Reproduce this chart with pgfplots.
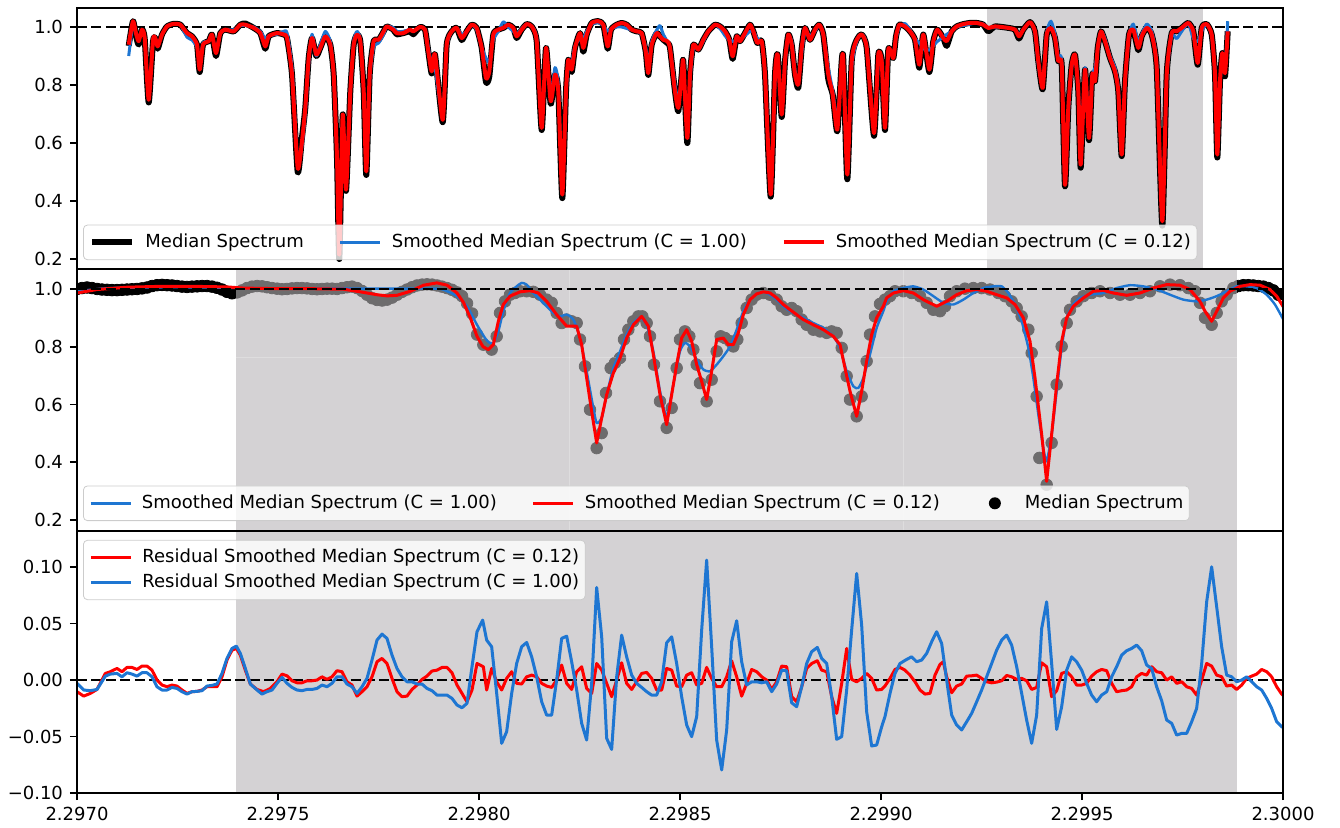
\documentclass[border=0pt]{standalone}
\usepackage{pgfplots}
\pgfplotsset{compat=1.18}
\usepackage{pgfplotstable}
\usepackage{fontspec}
\setmainfont{DejaVu Sans}
\definecolor{mplblue}{RGB}{30,118,210}
\definecolor{spangray}{RGB}{212,210,212}
\definecolor{spanover}{RGB}{183,180,183}

% top panel: x in arbitrary (pixel-like) units, columns: median, C=1.00, C=0.12
\pgfplotstableread{
x med blue red
128.7 0.935 0.900 0.939
133.0 1.020 1.010 1.020
136.3 0.965 0.975 0.974
138.7 0.940 0.955 0.951
142.0 0.991 0.991 0.991
144.7 0.960 0.962 0.962
148.7 0.740 0.760 0.749
153.0 0.950 0.956 0.956
155.3 0.962 0.962 0.962
157.7 0.925 0.935 0.933
162.0 0.974 0.974 0.974
167.0 1.002 1.002 1.002
173.7 1.011 1.011 1.011
180.3 1.008 1.008 1.008
187.0 0.979 0.965 0.979
192.0 0.968 0.955 0.968
197.0 0.939 0.930 0.939
199.7 0.845 0.870 0.853
203.0 0.939 0.945 0.939
208.7 0.951 0.951 0.951
212.0 0.974 0.970 0.974
216.0 0.900 0.920 0.910
220.3 0.979 0.979 0.979
225.3 0.991 0.991 0.991
233.7 0.985 0.990 0.985
240.3 1.008 1.005 1.008
245.3 1.012 1.005 1.008
253.7 0.997 1.000 0.997
260.3 0.979 0.985 0.979
265.3 0.925 0.960 0.933
268.7 0.968 0.970 0.968
277.0 0.979 0.975 0.979
283.7 0.974 0.985 0.974
287.0 0.962 0.980 0.962
292.0 0.836 0.860 0.836
297.7 0.500 0.530 0.514
302.0 0.620 0.590 0.606
305.3 0.721 0.700 0.721
308.7 0.893 0.870 0.893
312.0 0.962 0.975 0.962
316.3 0.900 0.900 0.905
320.3 0.928 0.940 0.928
325.3 0.968 0.985 0.968
330.3 0.939 0.950 0.939
333.7 0.836 0.836 0.836
337.0 0.548 0.548 0.548
339.3 0.200 0.220 0.215
342.7 0.698 0.680 0.698
346.0 0.435 0.450 0.439
350.3 0.778 0.778 0.778
353.7 0.939 0.950 0.939
357.0 0.974 0.985 0.974
360.3 0.951 0.955 0.951
363.7 0.778 0.778 0.778
366.3 0.490 0.510 0.502
369.7 0.836 0.820 0.836
373.7 0.951 0.930 0.951
378.7 0.956 0.945 0.956
383.7 0.985 0.975 0.985
386.7 1.002 1.002 1.002
393.3 0.991 0.998 0.991
396.7 0.975 0.985 0.979
403.3 0.979 0.985 0.979
410.0 0.985 0.991 0.991
413.3 0.975 0.985 0.985
420.0 1.000 1.000 1.000
425.0 0.991 0.991 0.991
428.3 0.916 0.930 0.916
431.7 0.840 0.870 0.847
435.0 0.905 0.860 0.905
442.7 0.672 0.690 0.680
446.7 0.939 0.930 0.939
451.7 0.985 0.985 0.985
456.7 0.997 0.997 0.997
461.7 0.955 0.975 0.962
466.7 0.985 0.985 0.985
471.7 1.008 1.008 1.008
476.7 0.997 0.990 0.997
481.7 0.928 0.930 0.928
486.0 0.810 0.893 0.824
489.3 0.830 0.880 0.847
493.3 0.974 0.955 0.974
498.3 0.991 0.985 0.991
503.3 0.997 1.018 0.997
508.3 1.008 1.000 1.008
513.3 0.997 0.985 0.997
516.7 0.962 0.975 0.968
521.7 0.991 0.995 0.991
526.7 1.010 1.010 1.010
531.7 1.002 1.002 1.002
536.7 0.951 0.960 0.951
541.7 0.645 0.680 0.652
546.0 0.928 0.890 0.928
550.7 0.735 0.765 0.744
555.0 0.836 0.860 0.836
558.3 0.778 0.800 0.778
562.3 0.410 0.440 0.422
566.0 0.778 0.760 0.778
568.3 0.887 0.860 0.887
571.7 0.845 0.880 0.853
575.0 0.928 0.935 0.928
580.0 0.979 0.960 0.979
583.3 0.915 0.960 0.928
586.7 0.974 0.985 0.974
591.7 1.014 1.010 1.014
598.3 1.020 1.015 1.020
603.3 1.008 1.005 1.008
607.7 0.925 0.985 0.933
611.0 0.991 0.995 0.991
616.7 1.008 1.000 1.008
621.7 1.014 1.000 1.014
626.7 1.008 0.995 1.008
631.7 0.991 0.990 0.991
636.7 0.985 0.985 0.985
641.7 0.979 0.975 0.979
645.7 0.916 0.930 0.916
648.3 0.835 0.870 0.841
651.7 0.939 0.950 0.939
656.7 0.979 0.990 0.979
660.0 0.968 1.005 0.968
663.3 0.956 0.975 0.956
667.3 0.945 0.950 0.951
670.0 0.928 0.930 0.928
675.0 0.778 0.800 0.778
678.3 0.710 0.750 0.721
681.7 0.836 0.820 0.836
683.3 0.882 0.850 0.882
687.3 0.600 0.630 0.617
690.0 0.836 0.820 0.836
693.3 0.939 0.925 0.939
698.3 0.922 0.925 0.922
703.3 0.956 0.950 0.956
708.3 0.985 0.985 0.985
715.0 1.008 1.008 1.008
720.0 1.002 0.995 1.002
725.0 0.985 0.970 0.985
729.3 0.956 0.955 0.956
732.7 0.890 0.950 0.899
736.7 0.968 0.955 0.968
740.0 0.951 0.955 0.951
745.0 0.979 0.970 0.979
750.0 1.008 0.985 1.008
753.3 0.985 0.985 0.985
757.3 0.945 0.960 0.945
761.7 0.951 0.945 0.951
765.0 0.836 0.840 0.836
770.7 0.415 0.430 0.422
775.0 0.836 0.820 0.836
777.7 0.905 0.895 0.905
781.7 0.690 0.710 0.698
785.0 0.882 0.870 0.882
788.3 0.974 0.965 0.974
791.7 0.939 0.950 0.939
795.0 0.836 0.850 0.836
798.3 0.790 0.810 0.801
801.7 0.928 0.910 0.928
805.0 0.997 0.985 0.997
810.0 0.956 0.970 0.956
815.0 0.991 0.985 0.991
819.3 1.008 1.008 1.008
823.3 0.974 0.970 0.974
828.3 0.820 0.860 0.836
832.7 0.767 0.780 0.767
837.3 0.640 0.680 0.646
841.7 0.882 0.860 0.882
843.3 0.887 0.870 0.887
847.3 0.475 0.500 0.491
851.7 0.882 0.860 0.882
856.7 0.956 0.950 0.956
861.7 0.974 0.975 0.974
866.7 0.928 0.935 0.928
874.0 0.625 0.650 0.634
878.3 0.905 0.880 0.905
881.7 0.882 0.890 0.882
885.0 0.645 0.670 0.652
888.3 0.922 0.910 0.922
893.3 0.893 0.910 0.893
896.0 0.968 0.960 0.968
899.3 1.008 1.000 1.008
905.0 1.002 1.012 1.002
910.0 0.985 0.990 0.985
915.0 0.956 0.960 0.956
919.3 0.860 0.945 0.870
923.3 0.974 0.925 0.974
929.3 0.845 0.920 0.853
933.3 0.951 0.935 0.951
937.3 0.991 0.950 0.991
943.3 0.962 0.965 0.962
946.7 0.935 0.975 0.951
951.7 0.985 0.985 0.985
956.7 1.002 1.000 1.002
963.3 1.010 1.005 1.010
970.0 1.014 1.010 1.014
976.7 1.014 1.014 1.014
983.3 1.008 1.010 1.008
988.3 0.985 0.997 0.997
995.0 1.002 1.000 1.002
1008.3 0.997 0.997 0.997
1015.0 0.991 0.991 0.991
1019.0 0.960 0.975 0.968
1023.3 0.991 0.991 0.991
1030.0 1.017 1.015 1.017
1035.0 0.985 0.980 0.985
1038.3 0.882 0.870 0.882
1042.7 0.785 0.800 0.790
1046.7 0.974 0.980 0.974
1051.0 0.997 1.020 0.997
1055.0 0.962 0.975 0.962
1058.3 0.882 0.900 0.882
1061.7 0.870 0.880 0.870
1065.0 0.450 0.470 0.456
1068.3 0.721 0.700 0.721
1071.7 0.870 0.860 0.870
1075.0 0.905 0.900 0.905
1078.3 0.778 0.790 0.778
1080.7 0.515 0.540 0.525
1085.0 0.853 0.860 0.853
1089.0 0.610 0.640 0.617
1092.3 0.836 0.830 0.836
1095.0 0.813 0.860 0.813
1097.7 0.928 0.920 0.928
1101.0 0.985 0.985 0.985
1105.0 0.951 0.960 0.951
1110.0 0.893 0.900 0.893
1115.0 0.847 0.860 0.847
1118.3 0.778 0.790 0.778
1121.7 0.555 0.580 0.560
1125.0 0.813 0.800 0.813
1129.0 0.974 0.970 0.974
1133.3 0.991 1.010 0.991
1138.3 0.920 0.950 0.928
1141.7 0.968 0.975 0.968
1146.7 0.997 1.010 0.997
1151.7 0.974 0.985 0.974
1156.7 0.859 0.870 0.859
1162.3 0.315 0.335 0.330
1166.7 0.836 0.820 0.836
1171.7 0.979 0.970 0.979
1176.7 0.985 0.960 0.985
1181.7 0.997 0.985 0.997
1188.3 1.014 1.012 1.014
1193.3 0.985 0.960 0.985
1197.7 0.870 0.950 0.876
1201.7 0.997 0.985 0.997
1206.7 1.010 1.010 1.010
1211.7 0.974 0.970 0.974
1215.0 0.836 0.850 0.836
1217.3 0.550 0.570 0.560
1220.0 0.813 0.800 0.813
1222.3 0.910 0.890 0.910
1225.0 0.830 0.850 0.841
1227.7 0.985 1.020 0.985
}\toptable

% middle + bottom panels: x = (wavelength - 2.2970) * 1e4
\pgfplotstableread{
x y
0.000 1.000
0.124 1.003
0.249 1.005
0.373 1.003
0.498 1.000
0.622 0.998
0.746 0.997
0.871 0.996
0.995 0.996
1.120 0.997
1.244 0.998
1.368 0.999
1.493 1.000
1.617 1.002
1.742 1.005
1.866 1.010
1.990 1.013
2.115 1.014
2.239 1.013
2.364 1.012
2.488 1.010
2.612 1.008
2.737 1.007
2.861 1.008
2.986 1.009
3.110 1.010
3.234 1.010
3.359 1.008
3.483 1.004
3.608 0.998
3.732 0.990
3.856 0.985
3.981 0.988
4.105 0.995
4.230 1.003
4.354 1.008
4.478 1.010
4.603 1.009
4.727 1.006
4.852 1.003
4.976 1.001
5.100 0.999
5.225 1.000
5.349 1.002
5.474 1.003
5.598 1.003
5.722 1.002
5.847 1.000
5.971 0.999
6.096 1.000
6.220 1.001
6.344 1.001
6.469 1.000
6.593 1.003
6.718 1.006
6.842 1.008
6.966 1.003
7.091 0.993
7.215 0.980
7.340 0.968
7.464 0.962
7.588 0.960
7.713 0.963
7.837 0.970
7.962 0.980
8.086 0.990
8.210 0.998
8.335 1.006
8.459 1.012
8.584 1.015
8.708 1.016
8.832 1.015
8.957 1.012
9.081 1.008
9.206 1.003
9.330 0.997
9.454 0.988
9.579 0.975
9.703 0.950
9.828 0.915
9.952 0.842
10.108 0.807
10.315 0.790
10.440 0.836
10.523 0.917
10.647 0.957
10.771 0.980
10.896 0.986
11.020 0.992
11.186 0.992
11.352 0.990
11.518 0.980
11.683 0.963
11.808 0.952
11.932 0.917
12.056 0.882
12.181 0.894
12.305 0.888
12.430 0.882
12.513 0.825
12.637 0.732
12.761 0.582
12.927 0.449
13.052 0.501
13.159 0.640
13.275 0.726
13.383 0.744
13.508 0.761
13.607 0.825
13.715 0.859
13.839 0.888
13.964 0.905
14.063 0.905
14.171 0.882
14.254 0.836
14.353 0.738
14.503 0.611
14.668 0.519
14.793 0.588
14.917 0.726
15.000 0.825
15.124 0.853
15.232 0.836
15.332 0.790
15.415 0.738
15.498 0.674
15.663 0.611
15.788 0.686
15.912 0.784
16.012 0.836
16.120 0.830
16.244 0.819
16.327 0.801
16.426 0.825
16.534 0.882
16.658 0.934
16.783 0.963
16.907 0.980
17.073 0.986
17.239 0.980
17.405 0.963
17.529 0.940
17.653 0.928
17.778 0.934
17.902 0.923
18.027 0.894
18.151 0.876
18.317 0.859
18.483 0.853
18.649 0.848
18.773 0.853
18.897 0.848
19.022 0.796
19.146 0.698
19.229 0.617
19.395 0.559
19.519 0.628
19.643 0.750
19.726 0.842
19.851 0.905
19.975 0.948
20.100 0.963
20.224 0.975
20.348 0.992
20.555 0.992
20.763 0.986
20.970 0.975
21.136 0.952
21.302 0.928
21.468 0.923
21.592 0.940
21.716 0.975
21.882 0.992
22.089 1.001
22.297 1.003
22.504 1.003
22.711 0.998
22.919 0.986
23.084 0.975
23.250 0.957
23.375 0.934
23.499 0.905
23.665 0.859
23.748 0.778
23.872 0.628
23.939 0.415
24.121 0.322
24.245 0.467
24.370 0.669
24.494 0.801
24.619 0.882
24.701 0.928
24.867 0.957
25.033 0.975
25.240 0.986
25.448 0.992
25.697 0.986
25.945 0.980
26.194 0.980
26.443 0.986
26.691 0.992
26.940 1.009
27.189 1.015
27.438 1.013
27.645 1.003
27.811 0.992
27.935 0.952
28.060 0.900
28.225 0.876
28.350 0.917
28.474 0.957
28.599 0.980
28.765 1.003
28.889 1.010
29.013 1.013
29.137 1.013
29.262 1.012
29.386 1.010
29.511 1.008
29.635 1.003
29.759 0.995
29.884 0.980
30.008 0.965
}\middots

\pgfplotstableread{
x y
0.000 0.986
0.498 0.998
1.244 1.006
2.073 1.009
2.902 1.009
3.731 1.007
4.146 1.003
4.975 1.001
5.804 1.001
6.633 0.999
7.048 0.990
7.463 0.980
7.711 0.976
7.960 0.978
8.292 0.992
8.624 1.013
8.955 1.021
9.204 1.013
9.453 0.986
9.619 0.952
9.784 0.900
9.950 0.836
10.100 0.800
10.232 0.790
10.357 0.807
10.481 0.888
10.605 0.946
10.771 0.975
11.020 0.990
11.269 0.994
11.476 0.986
11.683 0.957
11.932 0.911
12.181 0.871
12.430 0.871
12.554 0.807
12.678 0.692
12.803 0.576
12.927 0.467
13.052 0.553
13.176 0.634
13.342 0.709
13.508 0.761
13.673 0.830
13.839 0.876
14.047 0.905
14.212 0.871
14.337 0.773
14.503 0.634
14.668 0.530
14.793 0.634
14.917 0.738
15.041 0.830
15.166 0.859
15.290 0.819
15.415 0.738
15.539 0.680
15.663 0.617
15.788 0.715
15.912 0.825
16.078 0.830
16.203 0.807
16.327 0.807
16.451 0.848
16.576 0.911
16.741 0.963
16.907 0.983
17.073 0.990
17.239 0.986
17.405 0.969
17.571 0.946
17.736 0.928
17.902 0.911
18.068 0.894
18.317 0.876
18.566 0.859
18.814 0.836
18.980 0.807
19.105 0.726
19.229 0.646
19.395 0.559
19.519 0.646
19.643 0.750
19.768 0.842
19.892 0.900
20.058 0.940
20.141 0.969
20.307 0.986
20.555 0.994
20.804 0.986
21.053 0.963
21.385 0.940
21.633 0.957
21.882 0.980
22.131 0.994
22.380 0.998
22.628 0.992
22.877 0.980
23.126 0.969
23.333 0.946
23.540 0.900
23.706 0.819
23.831 0.692
23.997 0.496
24.121 0.334
24.245 0.496
24.370 0.669
24.494 0.819
24.619 0.900
24.784 0.940
25.033 0.969
25.282 0.992
25.531 0.995
25.779 0.986
26.111 0.978
26.443 0.986
26.774 1.003
27.106 1.015
27.438 1.013
27.686 0.998
27.935 0.957
28.060 0.923
28.225 0.888
28.391 0.934
28.516 0.969
28.682 0.992
28.930 1.009
29.179 1.015
29.428 1.013
29.677 0.998
29.843 0.975
30.025 0.934
}\midred

\pgfplotstableread{
x y
0.000 0.992
0.829 1.003
2.488 1.006
4.146 1.003
5.804 1.001
7.463 1.001
8.955 1.001
9.204 0.992
9.453 0.975
9.701 0.940
9.950 0.876
10.150 0.830
10.250 0.815
10.357 0.813
10.481 0.853
10.605 0.923
10.771 0.986
10.937 1.009
11.061 1.021
11.186 1.015
11.352 0.986
11.518 0.963
11.683 0.940
11.849 0.917
12.015 0.905
12.181 0.911
12.347 0.894
12.513 0.830
12.678 0.715
12.844 0.588
12.927 0.536
13.052 0.553
13.176 0.634
13.342 0.726
13.508 0.784
13.673 0.842
13.839 0.882
14.005 0.900
14.171 0.876
14.337 0.784
14.503 0.646
14.668 0.559
14.834 0.669
15.000 0.784
15.124 0.813
15.249 0.801
15.415 0.755
15.581 0.721
15.746 0.715
15.912 0.738
16.078 0.767
16.244 0.801
16.410 0.859
16.576 0.923
16.741 0.963
16.907 0.983
17.073 0.990
17.239 0.980
17.405 0.963
17.571 0.940
17.736 0.923
17.902 0.911
18.068 0.900
18.317 0.882
18.566 0.865
18.814 0.836
18.980 0.796
19.146 0.715
19.312 0.663
19.436 0.657
19.561 0.692
19.726 0.773
19.892 0.865
20.058 0.923
20.141 0.957
20.307 0.992
20.555 1.003
20.804 1.009
21.053 0.998
21.302 0.975
21.551 0.952
21.799 0.946
22.048 0.963
22.297 0.986
22.545 1.003
22.794 1.009
23.002 1.009
23.167 0.986
23.333 0.946
23.499 0.888
23.665 0.796
23.789 0.692
23.914 0.565
24.038 0.449
24.121 0.403
24.245 0.496
24.370 0.646
24.494 0.796
24.619 0.900
24.784 0.946
24.950 0.969
25.199 0.980
25.531 0.986
25.862 1.003
26.194 1.013
26.526 1.009
26.857 0.998
27.189 0.980
27.521 0.963
27.852 0.957
28.101 0.963
28.350 0.975
28.599 0.992
28.848 1.009
29.096 1.009
29.345 1.003
29.594 0.980
29.801 0.946
30.008 0.894
}\midblue

\pgfplotstableread{
x y
0.000 -0.0103
0.166 -0.0142
0.332 -0.0118
0.498 -0.0083
0.705 0.0059
0.829 0.0074
0.995 0.0103
1.119 0.0074
1.244 0.0112
1.368 0.0112
1.493 0.0094
1.617 0.0124
1.741 0.0124
1.866 0.0088
1.990 0.0000
2.114 -0.0044
2.239 -0.0059
2.363 -0.0044
2.488 -0.0053
2.612 -0.0088
2.736 -0.0118
2.861 -0.0103
2.985 -0.0100
3.109 -0.0088
3.234 -0.0059
3.358 -0.0059
3.483 -0.0059
3.607 0.0029
3.731 0.0177
3.856 0.0265
3.964 0.0280
4.063 0.0221
4.187 0.0088
4.312 -0.0035
4.478 -0.0083
4.643 -0.0103
4.809 -0.0074
4.975 -0.0015
5.100 0.0053
5.224 0.0038
5.348 -0.0006
5.473 -0.0024
5.597 -0.0024
5.721 -0.0006
5.846 -0.0006
5.970 0.0000
6.095 0.0029
6.219 0.0006
6.343 0.0029
6.468 0.0083
6.592 0.0074
6.716 -0.0015
6.841 -0.0044
6.965 -0.0142
7.090 -0.0103
7.214 -0.0059
7.338 0.0029
7.463 0.0162
7.587 0.0192
7.711 0.0147
7.836 0.0015
7.960 -0.0103
8.085 -0.0147
8.209 -0.0142
8.333 -0.0083
8.458 -0.0044
8.582 0.0006
8.706 0.0035
8.831 0.0080
8.955 0.0088
9.080 0.0112
9.204 0.0112
9.328 0.0065
9.453 -0.0044
9.577 -0.0118
9.701 -0.0192
9.826 -0.0088
9.950 0.0147
10.108 0.0118
10.191 -0.0088
10.315 0.0103
10.440 -0.0015
10.564 -0.0088
10.688 0.0015
10.813 0.0074
10.937 -0.0029
11.061 -0.0035
11.186 0.0029
11.310 0.0044
11.435 0.0029
11.559 -0.0029
11.683 -0.0053
11.808 -0.0065
11.932 0.0000
12.056 0.0133
12.181 -0.0029
12.305 -0.0083
12.430 0.0074
12.554 0.0118
12.678 -0.0074
12.803 -0.0118
12.927 0.0147
13.052 0.0088
13.176 -0.0029
13.300 -0.0147
13.425 0.0000
13.549 0.0153
13.673 -0.0029
13.798 -0.0083
13.922 -0.0015
14.047 0.0059
14.171 0.0068
14.295 0.0015
14.420 -0.0088
14.544 -0.0088
14.668 0.0103
14.793 0.0088
14.917 -0.0053
15.041 -0.0059
15.166 0.0044
15.290 0.0065
15.415 -0.0044
15.539 -0.0029
15.663 0.0112
15.788 0.0015
15.912 -0.0059
16.037 -0.0059
16.161 0.0029
16.285 0.0171
16.410 0.0029
16.534 -0.0142
16.658 -0.0029
16.783 0.0094
16.907 0.0074
17.032 0.0029
17.156 0.0000
17.280 -0.0083
17.405 -0.0015
17.529 0.0124
17.653 0.0118
17.778 -0.0147
17.902 -0.0192
18.027 -0.0059
18.151 0.0103
18.275 0.0147
18.416 0.0171
18.524 0.0088
18.649 0.0074
18.773 -0.0147
18.897 -0.0295
19.022 -0.0029
19.146 0.0280
19.270 0.0006
19.395 -0.0015
19.519 0.0015
19.643 0.0059
19.768 0.0015
19.892 -0.0088
20.017 -0.0083
20.099 -0.0053
20.224 0.0015
20.348 0.0094
20.473 0.0112
20.597 0.0088
20.721 0.0044
20.846 -0.0015
20.970 -0.0088
21.094 -0.0124
21.219 -0.0118
21.343 0.0044
21.468 0.0139
21.550 0.0162
21.633 0.0029
21.758 -0.0112
21.882 -0.0053
22.006 -0.0035
22.131 0.0035
22.255 0.0038
22.380 0.0044
22.504 0.0015
22.628 -0.0015
22.753 -0.0024
22.877 -0.0018
23.002 -0.0006
23.126 0.0041
23.250 0.0029
23.375 0.0006
23.499 0.0015
23.623 -0.0006
23.748 -0.0083
23.872 -0.0065
23.997 0.0153
24.121 0.0118
24.245 -0.0147
24.370 -0.0094
24.494 0.0059
24.619 0.0074
24.743 0.0029
24.867 -0.0044
24.992 -0.0044
25.116 -0.0029
25.240 0.0035
25.365 0.0074
25.489 0.0094
25.614 0.0083
25.738 -0.0029
25.862 -0.0103
25.987 -0.0094
26.111 -0.0088
26.235 -0.0059
26.360 0.0029
26.484 0.0059
26.609 0.0044
26.733 0.0118
26.857 0.0074
26.982 0.0065
27.106 0.0000
27.231 0.0029
27.355 -0.0029
27.479 -0.0015
27.604 -0.0059
27.728 -0.0074
27.852 -0.0133
27.977 0.0000
28.101 0.0147
28.225 0.0124
28.350 0.0044
28.474 0.0029
28.599 -0.0053
28.723 -0.0044
28.847 -0.0083
28.972 -0.0044
29.096 0.0015
29.221 0.0035
29.345 0.0053
29.469 0.0094
29.594 0.0074
29.718 0.0029
29.843 -0.0059
29.967 -0.0124
30.050 -0.0150
}\botred

\pgfplotstableread{
x y
0.000 -0.0029
0.166 -0.0088
0.332 -0.0094
0.498 -0.0083
0.705 0.0035
0.829 0.0053
0.995 0.0059
1.119 0.0029
1.244 0.0065
1.368 0.0053
1.493 0.0035
1.617 0.0065
1.741 0.0065
1.866 0.0029
1.990 -0.0059
2.114 -0.0088
2.239 -0.0088
2.363 -0.0065
2.488 -0.0074
2.612 -0.0103
2.736 -0.0124
2.861 -0.0103
2.985 -0.0100
3.109 -0.0094
3.234 -0.0053
3.358 -0.0047
3.483 -0.0035
3.607 0.0059
3.731 0.0192
3.856 0.0280
3.964 0.0301
4.063 0.0236
4.187 0.0103
4.312 -0.0035
4.478 -0.0088
4.602 -0.0124
4.726 -0.0103
4.851 -0.0088
4.975 -0.0029
5.100 0.0024
5.224 -0.0029
5.348 -0.0065
5.473 -0.0088
5.597 -0.0094
5.721 -0.0083
5.846 -0.0083
5.970 -0.0074
6.095 -0.0044
6.219 -0.0059
6.343 -0.0029
6.468 0.0029
6.592 0.0029
6.716 -0.0035
6.841 -0.0059
6.965 -0.0118
7.090 -0.0059
7.214 0.0015
7.338 0.0177
7.463 0.0354
7.587 0.0407
7.711 0.0369
7.836 0.0221
7.960 0.0103
8.085 0.0029
8.209 -0.0015
8.333 -0.0015
8.458 -0.0035
8.582 -0.0035
8.706 -0.0074
8.831 -0.0094
8.955 -0.0133
9.080 -0.0133
9.204 -0.0133
9.328 -0.0162
9.453 -0.0221
9.577 -0.0245
9.701 -0.0206
9.826 0.0118
9.950 0.0428
10.091 0.0531
10.191 0.0354
10.315 0.0295
10.440 -0.0118
10.564 -0.0560
10.688 -0.0457
10.813 -0.0118
10.937 0.0147
11.061 0.0295
11.186 0.0333
11.310 0.0206
11.435 0.0029
11.559 -0.0192
11.683 -0.0310
11.808 -0.0310
11.932 0.0000
12.056 0.0369
12.181 0.0389
12.305 0.0162
12.430 -0.0088
12.554 -0.0383
12.678 -0.0531
12.803 -0.0029
12.927 0.0820
13.052 0.0383
13.176 -0.0516
13.300 -0.0614
13.425 0.0029
13.549 0.0398
13.673 0.0206
13.798 0.0044
13.922 -0.0029
14.047 -0.0065
14.171 -0.0103
14.295 -0.0133
14.420 -0.0133
14.544 -0.0015
14.668 0.0330
14.793 0.0383
14.917 0.0147
15.041 -0.0147
15.166 -0.0398
15.290 -0.0501
15.415 -0.0324
15.539 0.0442
15.663 0.1062
15.788 0.0295
15.912 -0.0531
16.037 -0.0796
16.161 -0.0442
16.285 0.0339
16.410 0.0525
16.534 0.0162
16.658 -0.0044
16.783 -0.0015
16.907 -0.0015
17.032 -0.0024
17.156 -0.0015
17.280 -0.0103
17.405 -0.0035
17.529 0.0088
17.653 0.0083
17.778 -0.0201
17.902 -0.0236
18.027 -0.0059
18.151 0.0147
18.275 0.0251
18.416 0.0289
18.524 0.0192
18.649 0.0147
18.773 -0.0147
18.897 -0.0525
19.022 -0.0501
19.146 -0.0088
19.270 0.0442
19.395 0.0944
19.519 0.0487
19.643 -0.0280
19.768 -0.0584
19.892 -0.0575
20.017 -0.0413
20.099 -0.0324
20.224 -0.0118
20.348 0.0059
20.473 0.0147
20.638 0.0183
20.763 0.0206
20.887 0.0162
21.011 0.0177
21.136 0.0236
21.260 0.0339
21.385 0.0428
21.509 0.0324
21.633 0.0000
21.758 -0.0310
21.882 -0.0398
22.006 -0.0442
22.131 -0.0369
22.255 -0.0295
22.380 -0.0192
22.504 -0.0088
22.628 0.0029
22.753 0.0147
22.877 0.0265
23.002 0.0354
23.126 0.0398
23.250 0.0310
23.375 0.0118
23.499 -0.0118
23.623 -0.0354
23.748 -0.0560
23.872 -0.0310
23.997 0.0457
24.121 0.0693
24.245 0.0147
24.370 -0.0437
24.494 -0.0236
24.619 0.0088
24.743 0.0206
24.867 0.0162
24.992 0.0088
25.116 -0.0029
25.240 -0.0133
25.365 -0.0192
25.489 -0.0133
25.614 -0.0103
25.738 0.0029
25.862 0.0118
25.987 0.0221
26.111 0.0260
26.235 0.0280
26.360 0.0310
26.484 0.0260
26.609 0.0133
26.733 0.0103
26.857 -0.0059
26.982 -0.0183
27.106 -0.0354
27.231 -0.0383
27.355 -0.0487
27.479 -0.0472
27.604 -0.0472
27.728 -0.0369
27.852 -0.0251
27.977 0.0147
28.101 0.0693
28.225 0.1003
28.350 0.0649
28.474 0.0295
28.599 0.0044
28.723 0.0029
28.847 -0.0015
28.972 0.0000
29.096 0.0029
29.221 -0.0015
29.345 -0.0059
29.469 -0.0088
29.594 -0.0162
29.718 -0.0251
29.843 -0.0369
29.967 -0.0413
30.050 -0.0430
}\botblue

\pgfplotsset{
  panel/.style={
    scale only axis, width=603pt,
    axis line style={line width=0.8pt},
    tick align=outside, major tick length=3.5pt,
    tick style={black, line width=0.8pt},
    ticklabel style={font=\fontsize{9}{10.8}\selectfont},
    xtick pos=bottom, ytick pos=left,
    axis on top,
    every axis plot/.append style={line join=round},
    legend image code/.code={\draw[#1] (0pt,0pt) -- (20pt,0pt);},
    legend style={draw=black!20, fill=white, fill opacity=0.8, draw opacity=1, text opacity=1,
      rounded corners=2pt, font=\fontsize{9}{10.8}\selectfont,
      inner xsep=3pt, inner ysep=2.5pt,
      nodes={inner xsep=0pt, inner ysep=2pt},
      /tikz/every odd column/.append style={column sep=5pt},
      /tikz/every even column/.append style={column sep=17.5pt}},
    legend cell align=left,
  },
  dashref/.style={black, line width=1.35pt, dash pattern=on 5pt off 2.2pt, forget plot},
}

\begin{document}
\begin{tikzpicture}
\path[use as bounding box] (0,0) rectangle (670pt,413.5pt);

% ---------------- top panel ----------------
\begin{axis}[panel, at={(38.5pt,279pt)}, anchor=south west, height=130.5pt,
  xmin=77, xmax=1283, ymin=0.1655, ymax=1.0655,
  xtick=\empty, ytick={0.2,0.4,0.6,0.8,1.0}, yticklabels={0.2,0.4,0.6,0.8,1.0},
  legend columns=3,
  legend style={at={(0.005,0.034)}, anchor=south west}]
\addplot[draw=none, fill=spangray, forget plot] coordinates {(987.3,0.1655) (987.3,1.0655) (1203.3,1.0655) (1203.3,0.1655)} --cycle;
\addplot[dashref] coordinates {(77,1) (1283,1)};
\addplot[black, line width=3pt, smooth, tension=0.35] table[x=x, y=med] {\toptable};
\addplot[mplblue, line width=1.5pt, smooth, tension=0.35] table[x=x, y=blue] {\toptable};
\addplot[red, line width=2pt, smooth, tension=0.35] table[x=x, y=red] {\toptable};
\legend{Median Spectrum, Smoothed Median Spectrum (C = 1.00), Smoothed Median Spectrum (C = 0.12)}
\end{axis}

% ---------------- middle panel ----------------
\begin{axis}[panel, at={(38.5pt,148pt)}, anchor=south west, height=131pt,
  xmin=0, xmax=30, ymin=0.162, ymax=1.069,
  xtick=\empty, ytick={0.2,0.4,0.6,0.8,1.0}, yticklabels={0.2,0.4,0.6,0.8,1.0},
  clip marker paths=true,
  legend columns=3,
  legend style={at={(0.005,0.038)}, anchor=south west}]
\addplot[only marks, mark=*, mark size=2.9pt, black, forget plot] table {\middots};
\addplot[draw=none, fill=spanover, fill opacity=0.6, forget plot] coordinates {(3.963,0.162) (3.963,1.069) (28.863,1.069) (28.863,0.162)} --cycle;
\addplot[white, opacity=0.25, line width=0.6pt, forget plot] coordinates {(3.963,0.763) (28.863,0.763)};
\addplot[white, opacity=0.25, line width=0.6pt, forget plot] coordinates {(12.26,0.162) (12.26,1.069)};
\addplot[white, opacity=0.25, line width=0.6pt, forget plot] coordinates {(20.55,0.162) (20.55,1.069)};
\addplot[mplblue, line width=1.2pt, smooth, tension=0.35, forget plot] table {\midblue};
\addplot[red, line width=1.5pt, forget plot] table {\midred};
\addplot[dashref] coordinates {(0,1) (30,1)};
\addlegendimage{mplblue, line width=1.2pt}
\addlegendimage{red, line width=1.5pt}
\addlegendimage{legend image code/.code={\path[draw=none, fill=none] (0pt,-1pt) rectangle (20pt,1pt); \fill[black, fill opacity=1, draw=none] (10pt,0pt) circle (3pt);}}
\legend{Smoothed Median Spectrum (C = 1.00), Smoothed Median Spectrum (C = 0.12), Median Spectrum}
\end{axis}

% ---------------- bottom panel ----------------
\begin{axis}[panel, at={(38.5pt,17pt)}, anchor=south west, height=131pt,
  xmin=0, xmax=30, ymin=-0.10, ymax=0.132,
  xtick={0,5,10,15,20,25,30},
  xticklabels={2.2970,2.2975,2.2980,2.2985,2.2990,2.2995,2.3000},
  ytick={-0.10,-0.05,0,0.05,0.10},
  yticklabels={−0.10,−0.05,0.00,0.05,0.10},
  legend columns=1,
  legend style={at={(0.005,0.966)}, anchor=north west}]
\addplot[draw=none, fill=spangray, forget plot] coordinates {(3.963,-0.10) (3.963,0.132) (28.863,0.132) (28.863,-0.10)} --cycle;
\addplot[dashref] coordinates {(0,0) (30,0)};
\addplot[red, line width=1.5pt] table {\botred};
\addplot[mplblue, line width=1.5pt] table {\botblue};
\legend{Residual Smoothed Median Spectrum (C = 0.12), Residual Smoothed Median Spectrum (C = 1.00)}
\end{axis}
\end{tikzpicture}
\end{document}
